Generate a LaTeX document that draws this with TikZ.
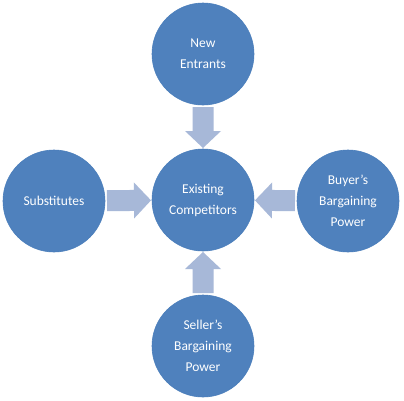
\documentclass[tikz,border=0pt]{standalone}
\usepackage{fontspec}
\setmainfont{Carlito}
\usetikzlibrary{calc}
\definecolor{circblue}{HTML}{4F81BD}
\definecolor{circedge}{HTML}{4A7EBB}
\definecolor{arrowblue}{HTML}{A7B8D8}
\tikzset{
  force/.style={circle, fill=circblue, draw=circedge, line width=0.6pt,
    minimum size=102pt, inner sep=0pt, text=white, align=center,
    font=\fontsize{13.5}{21}\selectfont},
  blockarrow/.style={fill=arrowblue, draw=none}
}
\newcommand{\blockarr}[2]{%
  \coordinate (S) at ($(#1)!53pt!(#2)$);
  \coordinate (T) at ($(#2)!52pt!(#1)$);
  \coordinate (H) at ($(T)!17pt!(S)$);
  \fill[blockarrow] ($(S)!10.5pt!90:(T)$) -- ($(H)!10.5pt!90:(T)$) -- ($(H)!18pt!90:(T)$)
    -- (T) -- ($(H)!18pt!-90:(T)$) -- ($(H)!10.5pt!-90:(T)$) -- ($(S)!10.5pt!-90:(T)$) -- cycle;
}
\begin{document}
\begin{tikzpicture}[x=1pt,y=-1pt]
\useasboundingbox[fill=white] (0,0) rectangle (404,400);
\node[force] (center) at (203,200) {Existing\\Competitors};
\node[force] (new) at (203,54) {New\\Entrants};
\node[force] (sub) at (54,201) {Substitutes};
\node[force] (buyer) at (348,201) {Buyer’s\\Bargaining\\Power};
\node[force] (seller) at (203,346) {Seller’s\\Bargaining\\Power};
\blockarr{new}{center}
\blockarr{sub}{center}
\blockarr{buyer}{center}
\blockarr{seller}{center}
\end{tikzpicture}
\end{document}
